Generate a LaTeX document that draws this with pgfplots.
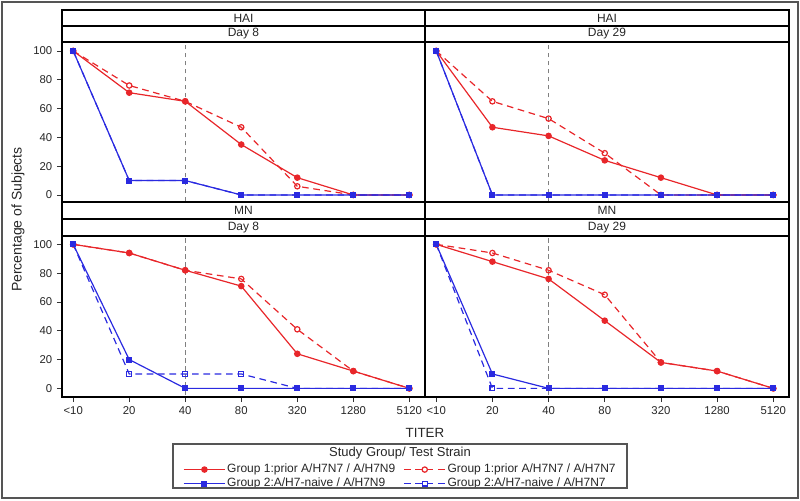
\documentclass[border=0pt]{standalone}
\usepackage{fontspec}
\setmainfont{Liberation Sans}
\usepackage{pgfplots}
\usepackage{pgfplotstable}
\pgfplotsset{compat=1.18}
\definecolor{cred}{HTML}{E8262A}
\definecolor{cblue}{HTML}{2A2AE0}
\definecolor{frame}{HTML}{555555}

% columns: rs = Group 1 / H7N9, rd = Group 1 / H7N7, bs = Group 2 / H7N9, bd = Group 2 / H7N7
\pgfplotstableread{
x rs rd bs bd
0 100 100 100 100
1 71 76 10 10
2 65 65 10 10
3 35 47 0 0
4 12 6 0 0
5 0 0 0 0
6 0 0 0 0
}\haiEight
\pgfplotstableread{
x rs rd bs bd
0 100 100 100 100
1 47 65 0 0
2 41 53 0 0
3 24 29 0 0
4 12 0 0 0
5 0 0 0 0
6 0 0 0 0
}\haiTwentyNine
\pgfplotstableread{
x rs rd bs bd
0 100 100 100 100
1 94 94 20 10
2 82 82 0 10
3 71 76 0 10
4 24 41 0 0
5 12 12 0 0
6 0 0 0 0
}\mnEight
\pgfplotstableread{
x rs rd bs bd
0 100 100 100 100
1 88 94 10 0
2 76 82 0 0
3 47 65 0 0
4 18 18 0 0
5 12 12 0 0
6 0 0 0 0
}\mnTwentyNine

\pgfplotsset{
    panel/.style={
        scale only axis,
        height=120pt,
        xmin=-0.2, xmax=6.28,
        axis line style={line width=1.2pt, black},
        tick align=outside,
        major tick length=3.75pt,
        tick style={line width=0.6pt, black!80},
        ytick={0,20,...,100},
        xtick={0,...,6},
        xticklabels={<10,20,40,80,320,1280,5120},
        ytick pos=left,
        xtick pos=bottom,
        tick label style={font=\fontsize{8.5}{10}\selectfont, text=black!85},
        /pgf/number format/assume math mode=true,
    },
    g1n9/.style={color=cred, line width=0.9pt, mark=*, mark size=2pt},
    g1n7/.style={color=cred, line width=0.9pt, dash pattern=on 5pt off 3.5pt,
        mark=o, mark size=2pt, mark options={solid}},
    g2n9/.style={color=cblue, line width=0.9pt, mark=square*, mark size=1.8pt},
    g2n7/.style={color=cblue, line width=0.9pt, dash pattern=on 5pt off 3.5pt,
        mark=square, mark size=1.8pt, mark options={solid}},
    refline/.style={color=gray, line width=0.6pt, dash pattern=on 3.5pt off 2.5pt, forget plot},
}

\newcommand{\series}[1]{%
    \addplot[refline] coordinates {(2,-10) (2,110)};
    \addplot[g1n9] table[x=x, y=rs] {#1};
    \addplot[g1n7] table[x=x, y=rd] {#1};
    \addplot[g2n9] table[x=x, y=bs] {#1};
    \addplot[g2n7] table[x=x, y=bd] {#1};
}

\newcommand{\headers}[4]{% axis name, header height, upper text, lower text
    \draw[line width=1.2pt] (#1.north west) rectangle ([yshift=#2]#1.north east);
    \draw[line width=1.2pt] ([yshift=#2]#1.north west) rectangle ([yshift=2*#2]#1.north east);
    \node[font=\fontsize{9}{10}\selectfont, text=black!85] at ([yshift=0.5*#2]#1.north) {#4};
    \node[font=\fontsize{9}{10}\selectfont, text=black!85] at ([yshift=1.5*#2]#1.north) {#3};
}

\begin{document}
\begin{tikzpicture}
\path[use as bounding box] (0,0) rectangle (600pt,375pt);
\draw[frame, line width=0.8pt] (1.5pt,1.5pt) rectangle (598.5pt,373.5pt);

\begin{axis}[panel, name=lt, at={(46.5pt,223.5pt)}, anchor=south west,
    width=272.25pt, ymin=-4.9, ymax=106.2, xtick=\empty]
\series{\haiEight}
\end{axis}

\begin{axis}[panel, name=rt, at={(318.75pt,223.5pt)}, anchor=south west,
    width=273pt, ymin=-4.9, ymax=106.2, xtick=\empty, ytick=\empty]
\series{\haiTwentyNine}
\end{axis}

\begin{axis}[panel, name=lb, at={(46.5pt,77.25pt)}, anchor=south west,
    width=272.25pt, height=120.75pt, ymin=-6, ymax=105.8,
    legend columns=2,
    legend image code/.code={\draw[mark repeat=2, mark phase=2]
        plot coordinates {(0cm,0cm) (0.55cm,0cm) (1.1cm,0cm)};},
    legend style={at={(0.931,-0.391)}, anchor=north, draw=none, fill=none,
        font=\fontsize{9}{10.5}\selectfont, text=black!85,
        nodes={inner sep=1pt}, row sep=0.5pt,
        /tikz/every even column/.append style={column sep=5pt}},
    legend cell align=left]
\series{\mnEight}
\legend{Group 1:prior A/H7N7 / A/H7N9, Group 1:prior A/H7N7 / A/H7N7,
    Group 2:A/H7-naive / A/H7N9, Group 2:A/H7-naive / A/H7N7}
\end{axis}

\begin{axis}[panel, name=rb, at={(318.75pt,77.25pt)}, anchor=south west,
    width=273pt, height=120.75pt, ymin=-6, ymax=105.8, ytick=\empty]
\series{\mnTwentyNine}
\end{axis}

\headers{lt}{12pt}{HAI}{Day 8}
\headers{rt}{12pt}{HAI}{Day 29}
\headers{lb}{12.75pt}{MN}{Day 8}
\headers{rb}{12.75pt}{MN}{Day 29}

\node[rotate=90, font=\fontsize{10.5}{12}\selectfont, text=black!85] at (13.5pt,210.4pt) {Percentage of Subjects};
\node[font=\fontsize{10}{12}\selectfont, text=black!85] at (318.75pt,50.25pt) {TITER};

\draw[frame, line width=0.8pt] (129.75pt,9pt) rectangle (470.25pt,42pt);
\node[font=\fontsize{9.75}{11}\selectfont, text=black!85] at (300pt,35.25pt) {Study Group/ Test Strain};
\end{tikzpicture}
\end{document}
